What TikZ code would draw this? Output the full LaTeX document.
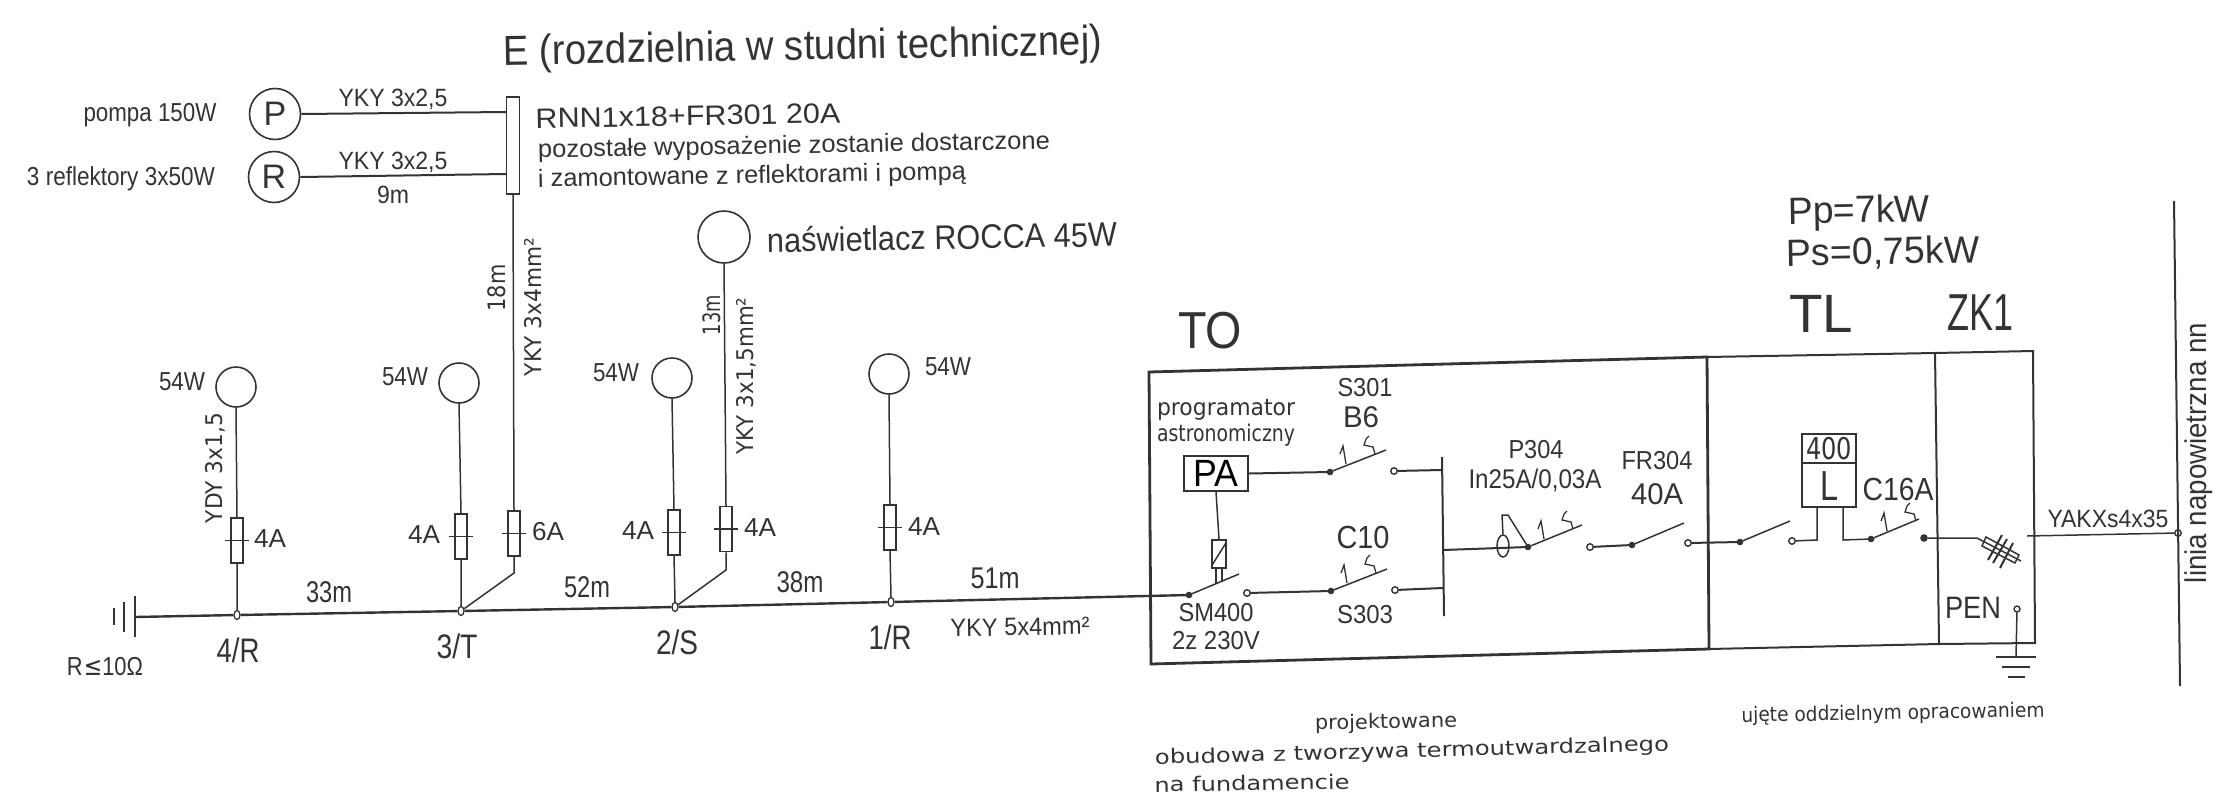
\documentclass[tikz,border=0pt]{standalone}
\usepackage{fontspec}
\usepackage{graphicx}
\setmainfont{Liberation Sans}
\newfontfamily\cad{DejaVu Sans}
\definecolor{ink}{HTML}{333333}
\usetikzlibrary{shapes.geometric,calc}
\newcommand\tx[3]{\resizebox{#1pt}{\height}{\fontsize{#2pt}{#2pt}\selectfont #3}}
\newcommand\cx[3]{\resizebox{#1pt}{\height}{\fontsize{#2pt}{#2pt}\selectfont\cad #3}}
\tikzset{
  lbl/.style={inner sep=0pt,outer sep=0pt,text=ink,anchor=center},
  wire/.style={draw=ink,line width=1.5pt},
  hwire/.style={draw=ink,line width=2pt},
  heavy/.style={draw=ink,line width=2.8pt},
  lamp/.style={circle,draw=ink,line width=1.6pt,minimum size=40pt,inner sep=0pt},
  motor/.style={circle,draw=ink,line width=1.6pt,minimum size=51pt,inner sep=0pt,text=ink,font=\fontsize{34pt}{34pt}\selectfont},
  fusebox/.style={rectangle,draw=ink,line width=1.5pt,minimum width=12pt,minimum height=45pt,inner sep=0pt},
  junct/.style={ellipse,draw=ink,line width=1.3pt,minimum width=6pt,minimum height=9pt,inner sep=0pt},
  term/.style={circle,draw=ink,line width=1.4pt,minimum size=6.5pt,inner sep=0pt},
  pivot/.style={circle,draw=ink,fill=ink,line width=1pt,minimum size=5.5pt,inner sep=0pt},
}
\newcommand\brkmarks[1]{%
  \draw[wire,line width=1.3pt,shift={(#1)}] (16,-8) -- (13,-26) -- (10,-18);
  \draw[wire,line width=1.3pt,shift={(#1)}] (45,-18) -- (43,-25) -- (34,-27) -- (36,-33) -- (39,-36);
}
\begin{document}
\begin{tikzpicture}[x=1pt,y=-1pt]
\useasboundingbox (0,0) rectangle (2224,809);
% ---- title and top-left
\node[lbl,rotate=1] (title) at (803,49) {\tx{599}{42}{E (rozdzielnia w studni technicznej)}};
\node[motor] (P) at (275,114) {P};
\node[motor] (R) at (274,177) {R};
\node[lbl] (tp) at (150,115) {\tx{133}{26}{pompa 150W}};
\node[lbl] (tr) at (121,179) {\tx{188}{26}{3 reflektory 3x50W}};
\node[rectangle,draw=ink,line width=1.6pt,minimum width=13pt,minimum height=97pt,inner sep=0pt] (rnn) at (513,145.5) {};
\coordinate (rnnA) at (506,112);
\coordinate (rnnB) at (506,174);
\draw[hwire] (P.east) -- (rnnA);
\draw[hwire] (R.east) -- (rnnB);
\node[lbl] (y1) at (393,99) {\tx{109}{25}{YKY 3x2,5}};
\node[lbl] (y2) at (393,162) {\tx{109}{25}{YKY 3x2,5}};
\node[lbl] (l9) at (393,195) {\tx{32}{25}{9m}};
\node[lbl,rotate=1] (trnn) at (688,116) {\tx{305}{28}{RNN1x18+FR301 20A}};
\node[lbl,rotate=1] (tpoz) at (794,147) {\tx{512}{25}{pozostałe wyposażenie zostanie dostarczone}};
\node[lbl,rotate=1] (tzam) at (752,177) {\tx{428}{25}{i zamontowane z reflektorami i pompą}};
\node[lamp,minimum size=52pt] (rocca) at (724,237) {};
\node[lbl,rotate=1] (troc) at (942,237) {\tx{350}{34}{naświetlacz ROCCA 45W}};
% ---- lamps, fuses
\node[lamp] (L4) at (236,387) {};
\node[lamp] (L3) at (459,383) {};
\node[lamp] (L2) at (672,378) {};
\node[lamp] (L1) at (889,374) {};
\node[fusebox] (F4) at (237,540.5) {};
\node[fusebox] (F3) at (461,536.5) {};
\node[fusebox] (F3b) at (514,533.5) {};
\node[fusebox] (F2) at (674,532.5) {};
\node[fusebox] (F2b) at (726,529) {};
\node[fusebox] (F1) at (890,527.5) {};
\foreach \f in {F4,F3,F3b,F2,F2b,F1} \draw[wire,line width=1.8pt] (\f.center) ++(-12,0) -- +(24,0);
\node[junct] (j4) at (237,615) {};
\node[junct] (j3) at (461,611) {};
\node[junct] (j2) at (675,607) {};
\node[junct] (j1) at (891,602) {};
\coordinate (kb3) at (514,573);
\coordinate (kb2) at (726,570);
\draw[wire] (L4.south) -- (F4.north) (F4.south) -- (j4.north);
\draw[wire] (L3.south) -- (F3.north) (F3.south) -- (j3.north);
\draw[wire] (L2.south) -- (F2.north) (F2.south) -- (j2.north);
\draw[wire] (L1.south) -- (F1.north) (F1.south) -- (j1.north);
\draw[wire] (rnn.south) -- (F3b.north) (F3b.south) -- (kb3) -- (j3);
\draw[wire] (rocca.south) -- (F2b.north) (F2b.south) -- (kb2) -- (j2);
\foreach \n/\x/\y in {a/182/382,b/405/377,c/616/373,d/948/367} \node[lbl] (w\n) at (\x,\y) {\tx{46}{26}{54W}};
\foreach \n/\x/\y in {a/270/539,b/424/535,c/638/531,d/760/528,e/924/527} \node[lbl] (a\n) at (\x,\y) {\tx{32}{26}{4A}};
\node[lbl] (a6) at (548,532) {\tx{32}{26}{6A}};
\node[lbl,rotate=90] (ydy) at (215,468) {\cx{110}{23}{YDY 3x1,5}};
\node[lbl,rotate=90] (m18) at (497,288) {\cx{47}{24}{18m}};
\node[lbl,rotate=90] (yk4) at (533,307) {\cx{138}{23}{YKY 3x4mm²}};
\node[lbl,rotate=90] (m13) at (712,315) {\cx{40}{24}{13m}};
\node[lbl,rotate=90] (yk15) at (746,376) {\cx{157}{23}{YKY 3x1,5mm²}};
% ---- bus
\coordinate (g1) at (135,617);
\coordinate (gt1) at (135,596); \coordinate (gb1) at (135,637);
\coordinate (gt2) at (124,602); \coordinate (gb2) at (124,632);
\coordinate (gt3) at (114,608); \coordinate (gb3) at (114,625);
\draw[wire] (gt1) -- (gb1) (gt2) -- (gb2) (gt3) -- (gb3);
\node[pivot] (sm) at (1189,595) {};
\draw[heavy,line width=2.4pt] (g1) -- (j4) -- (j3) -- (j2) -- (j1) -- (sm);
\node[lbl] (m33) at (329,592) {\tx{46}{30}{33m}};
\node[lbl] (m52) at (587,587) {\tx{46}{30}{52m}};
\node[lbl] (m38) at (800,582) {\tx{47}{30}{38m}};
\node[lbl] (m51) at (995,578) {\tx{49}{30}{51m}};
\node[lbl] (n4) at (238,650) {\tx{43}{34}{4/R}};
\node[lbl] (n3) at (457,646) {\tx{41}{34}{3/T}};
\node[lbl] (n2) at (677,642) {\tx{42}{34}{2/S}};
\node[lbl] (n1) at (890,637) {\tx{43}{34}{1/R}};
\node[lbl] (rr) at (105,667) {\tx{76}{26}{R\hspace{.05em}\fontspec{DejaVu Sans}≤\fontspec{Liberation Sans}10Ω}};
\node[lbl,rotate=1] (y5) at (1020,627) {\tx{139}{25}{YKY 5x4mm²}};
% ---- enclosures
\coordinate (A) at (1149,372); \coordinate (B) at (1707,357); \coordinate (C) at (1935,353); \coordinate (D) at (2033,351);
\coordinate (E) at (2035,643); \coordinate (H) at (1939,644); \coordinate (G) at (1709,649); \coordinate (I) at (1151,664);
\draw[heavy] (A) -- (B) -- (G) -- (I) -- cycle;
\draw[hwire] (B) -- (C) -- (H) -- (G);
\draw[hwire] (C) -- (D) -- (E) -- (H);
\node[lbl] (tTO) at (1210,331) {\tx{64}{52}{TO}};
\node[lbl] (tTL) at (1821,314) {\tx{64}{54}{TL}};
\node[lbl] (tZK) at (1980,313) {\tx{66}{52}{ZK1}};
\node[lbl,rotate=1] (pp) at (1859,213) {\tx{142}{38}{Pp=7kW}};
\node[lbl,rotate=1] (ps) at (1883,253) {\tx{193}{38}{Ps=0,75kW}};
% ---- TO
\node[lbl] (tprog) at (1226,410) {\cx{138}{23}{programator}};
\node[lbl] (tastr) at (1226,435) {\cx{138}{23}{astronomiczny}};
\node[rectangle,draw=ink,line width=1.6pt,minimum width=64pt,minimum height=35pt,inner sep=0pt] (PA) at (1216,473.5) {\tx{45}{38}{PA}};
\node[pivot] (c1) at (1330,472) {};
\node[term] (t1) at (1394,471) {};
\node[pivot] (c3) at (1331,591) {};
\node[term] (t3) at (1395,590) {};
\node[term] (tsm) at (1247,593) {};
\coordinate (vtop) at (1442,457); \coordinate (vbot) at (1444,616);
\coordinate (v1) at (1442,470); \coordinate (v3) at (1443,588); \coordinate (v2) at (1443,550);
\draw[hwire] (vtop) -- (vbot);
\draw[hwire] (PA.east) -- (c1);
\draw[hwire] (t1) -- (v1);
\draw[hwire] (tsm) -- (c3);
\draw[hwire] (t3) -- (v3);
\draw[wire] (c1) -- +(56,-22);
\draw[wire] (c3) -- +(56,-22);
\draw[wire] (sm) -- +(50,-21);
\brkmarks{c1}
\brkmarks{c3}
\node[rectangle,draw=ink,line width=1.5pt,minimum width=14pt,minimum height=28pt,inner sep=0pt] (coil) at (1219,554) {};
\draw[wire] ($(coil.south west)+(1,-4)$) -- ($(coil.north east)+(-1,4)$);
\draw[wire] (PA.south) -- (coil.north);
\draw[wire] (coil.south) ++(-3,0) -- +(0,15) (coil.south) ++(3,0) -- +(0,13);
\node[lbl] (ts301) at (1365,388) {\tx{55}{26}{S301}};
\node[lbl] (tb6) at (1361,417) {\tx{36}{30}{B6}};
\node[lbl] (tc10) at (1363,537) {\tx{53}{32}{C10}};
\node[lbl] (ts303) at (1365,615) {\tx{56}{26}{S303}};
\node[lbl] (tsm4) at (1216,613) {\tx{75}{26}{SM400}};
\node[lbl] (t2z) at (1216,641) {\tx{88}{26}{2z 230V}};
\node[lbl] (tp304) at (1536,450) {\tx{55}{26}{P304}};
\node[lbl] (tin) at (1535,480) {\tx{133}{27}{In25A/0,03A}};
\node[lbl] (tfr) at (1657,461) {\tx{71}{26}{FR304}};
\node[lbl] (t40) at (1657,494) {\tx{52}{30}{40A}};
% P304
\node[pivot] (c4) at (1528,547) {};
\node[term] (t4) at (1590,547) {};
\node[pivot] (c5) at (1632,545) {};
\draw[hwire] (v2) -- (c4);
\draw[wire] (c4) -- +(54,-22);
\brkmarks{c4}
\draw[hwire] (t4) -- (c5);
\draw[wire] (c5) -- +(52,-22);
\node[ellipse,draw=ink,line width=1.5pt,minimum width=12pt,minimum height=22pt,inner sep=0pt] (rcd) at (1503,546) {};
\coordinate (rcd1) at (1502,515); \coordinate (rcd2) at (1508,515);
\draw[wire] (rcd.north) -- (rcd1) -- (rcd2) -- (c4);
% ---- TL
\node[term] (t5) at (1688,543) {};
\node[pivot] (c6) at (1740,542) {};
\node[term] (t6) at (1792,541) {};
\node[pivot] (c7) at (1871,539) {};
\node[pivot,minimum size=6.5pt] (t7) at (1924,538) {};
\draw[hwire] (t5) -- (c6);
\draw[wire] (c6) -- +(50,-21);
\node[rectangle,draw=ink,line width=1.6pt,minimum width=54pt,minimum height=73pt,inner sep=0pt] (meter) at (1829,470.5) {};
\draw[wire] (1802,463) -- (1856,463);
\node[lbl] (t400) at (1829,449) {\cx{46}{30}{400}};
\node[lbl] (tL) at (1829,486) {\fontsize{42pt}{42pt}\selectfont\resizebox{18pt}{\height}{L}};
\coordinate (m1) at (1817,507); \coordinate (m2) at (1817,540);
\coordinate (m3) at (1843,507); \coordinate (m4) at (1843,540);
\draw[wire] (t6) -- (m2) -- (m1);
\draw[wire] (m3) -- (m4) -- (c7);
\draw[wire] (c7) -- +(48,-20);
\brkmarks{c7}
\node[lbl] (tc16) at (1898,489) {\tx{71}{32}{C16A}};
% ---- ZK1
\coordinate (z1) at (1977,538); \coordinate (z3) at (2021,561);
\draw[wire] (t7) -- (z1) -- (z3);
\draw[wire] (1986,537) -- (2019,555) -- (2015,563) -- (1982,546) -- cycle;
\draw[wire,line width=2pt] (2002,535) -- (1988,560) (2007,539) -- (1993,563) (2013,543) -- (2000,568);
\node[term] (air) at (2178,533) {};
\coordinate (yk) at (2027,536);
\draw[wire] (yk) -- (air);
\coordinate (air1) at (2174,201); \coordinate (air2) at (2180,686);
\draw[hwire] (air1) -- (air2);
\node[lbl] (tya) at (2108,519) {\tx{121}{25}{YAKXs4x35}};
\node[lbl,rotate=90] (tlin) at (2199,453) {\tx{260}{30}{linia napowietrzna nn}};
\node[lbl] (tpen) at (1973,608) {\tx{56}{31}{PEN}};
\node[term,minimum size=6pt] (pen) at (2017,609) {};
\coordinate (ea) at (2016,657);
\draw[wire] (pen) -- (ea);
\draw[wire,line width=2pt] (1996,657) -- (2036,657) (2002,667) -- (2030,667) (2008,677) -- (2025,677);
% ---- bottom text
\node[lbl,rotate=1] (tpro) at (1386,723) {\cx{142}{20}{projektowane}};
\node[lbl,rotate=1.5] (tobu) at (1412,752) {\cx{514}{20}{obudowa z tworzywa termoutwardzalnego}};
\node[lbl,rotate=1] (tna) at (1252,783) {\cx{195}{20}{na fundamencie}};
\node[lbl,rotate=1] (tuj) at (1893,714) {\cx{303}{20}{ujęte oddzielnym opracowaniem}};
\end{tikzpicture}
\end{document}
